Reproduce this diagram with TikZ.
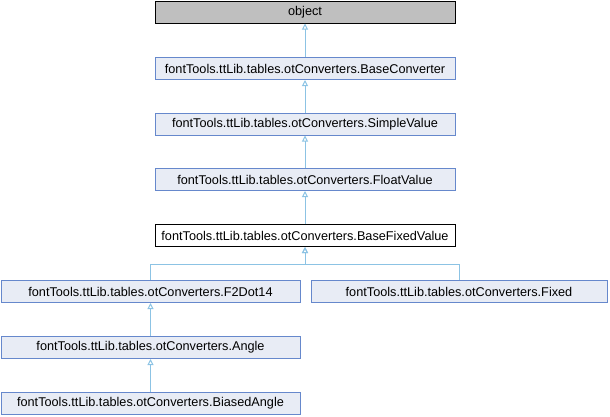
\documentclass[tikz,border=0pt]{standalone}
\usepackage{fontspec}
\setmainfont{Liberation Sans}
\usetikzlibrary{arrows.meta}
\definecolor{boxfill}{RGB}{232,236,245}
\definecolor{boxdraw}{RGB}{102,136,204}
\definecolor{edgecol}{RGB}{140,195,228}
\definecolor{objfill}{RGB}{191,191,191}
\begin{document}
\begin{tikzpicture}[x=1pt,y=-1pt,
  cls/.style={draw=boxdraw,fill=boxfill,line width=1pt,minimum height=22pt,inner sep=0pt,font=\fontsize{12.7}{14}\selectfont},
  edge/.style={draw=edgecol,line width=1pt,-{Triangle[open,length=6pt,width=6pt]}}]
\useasboundingbox (0,0) rectangle (610,416);
\node[cls,draw=black,fill=objfill,minimum width=300pt] (obj) at (305,12) {object};
\node[cls,minimum width=300pt] (bc) at (305,68.5) {fontTools.ttLib.tables.otConverters.BaseConverter};
\node[cls,minimum width=300pt] (sv) at (305,124) {fontTools.ttLib.tables.otConverters.SimpleValue};
\node[cls,minimum width=300pt] (fv) at (305,179.5) {fontTools.ttLib.tables.otConverters.FloatValue};
\node[cls,draw=black,fill=white,minimum width=300pt] (bfv) at (305,235.5) {fontTools.ttLib.tables.otConverters.BaseFixedValue};
\node[cls,minimum width=299pt] (f2) at (150.5,291.5) {fontTools.ttLib.tables.otConverters.F2Dot14};
\node[cls,minimum width=296pt] (fx) at (459,291.5) {fontTools.ttLib.tables.otConverters.Fixed};
\node[cls,minimum width=299pt] (an) at (150.5,347.5) {fontTools.ttLib.tables.otConverters.Angle};
\node[cls,minimum width=299pt] (ba) at (150.5,403.5) {fontTools.ttLib.tables.otConverters.BiasedAngle};
\draw[edge] (bc) -- (obj);
\draw[edge] (sv) -- (bc);
\draw[edge] (fv) -- (sv);
\draw[edge] (bfv) -- (fv);
\coordinate (fork) at (305,264);
\draw[edge] (f2.north) |- (fork) -- (bfv.south);
\draw[edge] (fx.north) |- (fork) -- (bfv.south);
\draw[edge] (an) -- (f2);
\draw[edge] (ba) -- (an);
\end{tikzpicture}
\end{document}
